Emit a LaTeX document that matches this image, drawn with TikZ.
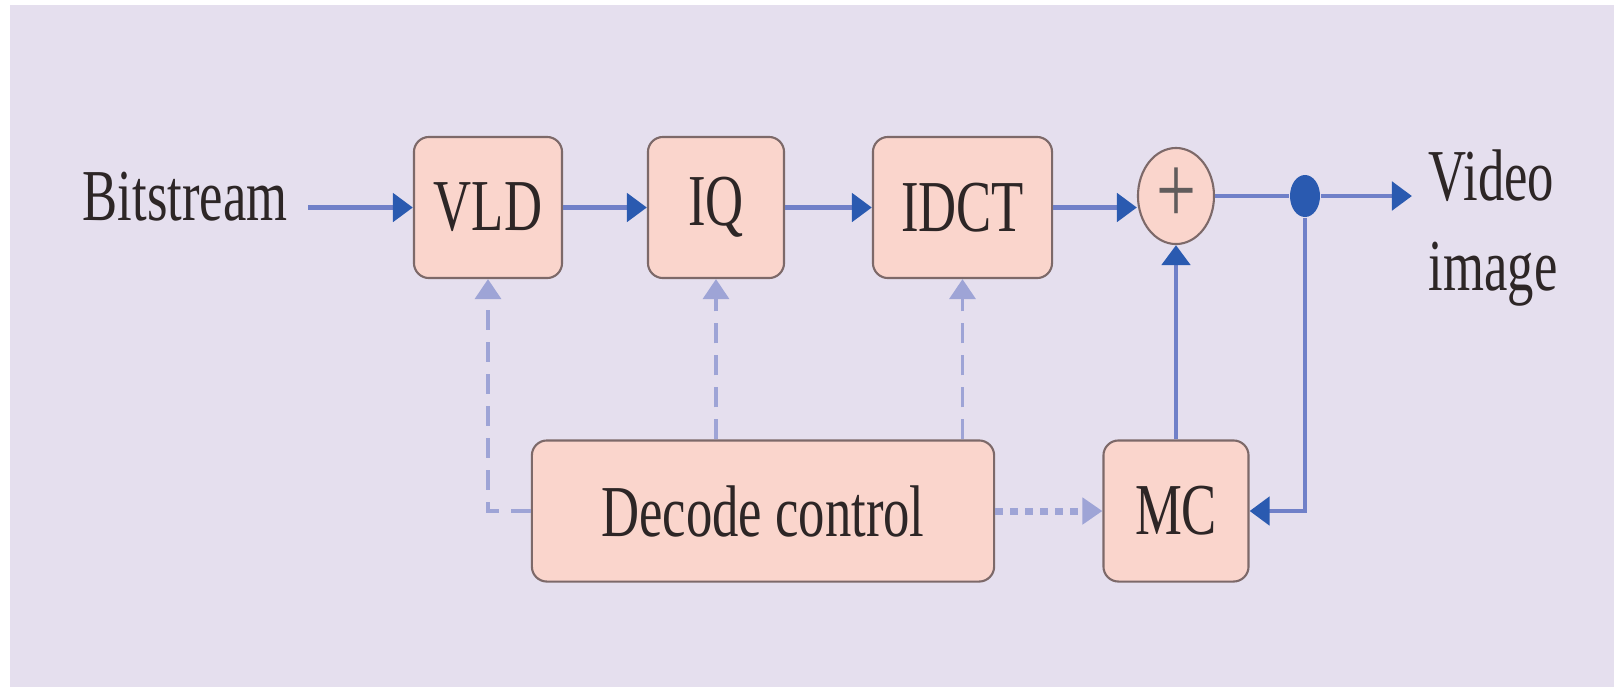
\documentclass[tikz,border=0pt]{standalone}
\usepackage{fontspec}
\setmainfont[FakeStretch=0.72]{Liberation Serif}
\usetikzlibrary{arrows.meta, shapes.geometric}

\definecolor{bgpurple}{RGB}{229,223,238}
\definecolor{boxfill}{RGB}{250,213,204}
\definecolor{boxline}{RGB}{125,105,105}
\definecolor{flowline}{RGB}{112,128,200}
\definecolor{flowhead}{RGB}{42,90,176}
\definecolor{ctrlline}{RGB}{158,164,214}
\definecolor{textgray}{RGB}{45,38,38}

\tikzset{
	block/.style={draw=boxline, line width=0.6pt, fill=boxfill, rounded corners=0.15cm, inner sep=0pt, minimum height=1.41cm, text=textgray},
	flow/.style={draw=flowline, line width=1.4pt, -{Triangle[length=0.2cm, width=0.28cm, color=flowhead]}},
	ctrl/.style={draw=ctrlline, line width=1pt, dash pattern=on 0.2cm off 0.12cm, -{Triangle[length=0.2cm, width=0.26cm]}},
}

\begin{document}
\begin{tikzpicture}[x=0.01cm, y=-0.01cm, font=\fontsize{20.8}{25.5}\selectfont]
	\fill [white] (0,0) rectangle (1614,687);
	\fill [bgpurple] (10,5) rectangle (1614,687);
	
	\node [anchor=base west, inner sep=0pt, text=textgray] (bits) at (82,220) {Bitstream};
	\coordinate (bits out) at (308,207.5);
	
	\node [block, minimum width=1.48cm] (vld) at (488,207.5) {VLD};
	\node [block, minimum width=1.36cm] (iq) at (716,207.5) {IQ};
	\node [block, minimum width=1.79cm] (idct) at (962.5,207.5) {IDCT};
	\node [ellipse, draw=boxline, line width=0.6pt, fill=boxfill, inner sep=0pt, minimum width=0.76cm, minimum height=0.96cm, text=textgray!75, font=\fontsize{28}{30}\selectfont] (sum) at (1176,196) {+};
	\node [ellipse, fill=flowhead, inner sep=0pt, minimum width=0.3cm, minimum height=0.42cm] (dot) at (1305,196) {};
	\coordinate (video in) at (1412,196);
	\node [anchor=base west, align=left, inner sep=0pt, text=textgray] (video) at (1428,290) {Video\\image};
	
	\node [block, minimum width=4.62cm] (dec) at (763,511) {Decode control};
	\node [block, minimum width=1.45cm] (mc) at (1176,511) {MC};
	
	\draw [flow] (bits out) -- (vld);
	\draw [flow] (vld) -- (iq);
	\draw [flow] (iq) -- (idct);
	\draw [flow] (idct.east) -- (idct -| sum.west);
	\draw [flow, -] (sum) -- (dot);
	\draw [flow] (dot) -- (video in);
	\draw [flow] (mc) -- (sum);
	\draw [flow] (dot) |- (mc.east);
	
	\begin{scope}[ctrl]
		\draw (dec.west) -| (vld.south);
		\draw (dec.north -| iq) -- (iq.south);
		\draw (dec.north -| idct) -- (idct.south);
		\draw [dash pattern=on 0.08cm off 0.07cm, line width=0.07cm] (dec) -- (mc);
	\end{scope}
\end{tikzpicture}
\end{document}
